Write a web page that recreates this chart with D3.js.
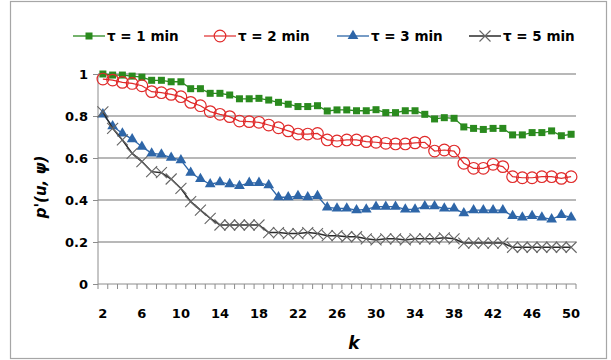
<!DOCTYPE html>
<html><head><meta charset="utf-8">
<script src="https://cdn.jsdelivr.net/npm/d3@7/dist/d3.min.js"></script>
<style>body{margin:0;background:#fff}svg{display:block}</style>
</head><body>
<svg id="c" width="611" height="360"></svg>
<script>
const ks = d3.range(2, 51);
const xTickLabels = [2,6,10,14,18,22,26,30,34,38,42,46,50];
const yTicks = [0,0.2,0.4,0.6,0.8,1];
const seriesNames = ["τ = 1 min","τ = 2 min","τ = 3 min","τ = 5 min"];
const tau1 = [1.0,.995,.995,.99,.985,.97,.97,.963,.963,.93,.93,.908,.908,.9,.882,.882,.884,.876,.865,.856,.845,.845,.849,.824,.829,.829,.825,.825,.83,.816,.816,.825,.825,.808,.786,.792,.789,.748,.741,.736,.741,.741,.71,.71,.721,.721,.729,.706,.713];
const tau2 = [.976,.971,.96,.955,.944,.916,.911,.903,.892,.865,.849,.821,.808,.797,.776,.773,.77,.757,.744,.729,.714,.714,.717,.686,.681,.686,.686,.678,.675,.67,.667,.667,.672,.675,.633,.638,.633,.575,.551,.551,.57,.559,.511,.506,.506,.511,.511,.503,.511];
const tau3 = [.808,.752,.717,.69,.654,.622,.617,.602,.59,.53,.5,.475,.485,.476,.467,.482,.482,.471,.413,.413,.419,.413,.419,.365,.36,.36,.352,.355,.368,.368,.368,.355,.355,.371,.371,.36,.36,.337,.352,.352,.352,.352,.324,.317,.324,.317,.308,.329,.317];
const tau5 = [.82,.741,.686,.622,.583,.535,.53,.5,.455,.392,.352,.313,.281,.281,.281,.281,.281,.245,.245,.24,.24,.245,.24,.23,.23,.225,.225,.215,.21,.215,.215,.21,.215,.215,.215,.22,.215,.195,.195,.195,.195,.195,.175,.175,.175,.175,.175,.175,.175];

const svg = d3.select("#c");
const font = "'DejaVu Sans', sans-serif";
// outer frame
svg.append("rect").attr("x",10.5).attr("y",1.5).attr("width",596).attr("height",357)
  .attr("fill","none").attr("stroke","#a6a6a6").attr("stroke-width",1.2);

const x = d3.scaleBand().domain(ks).range([98,576]).padding(0);
const cx = k => x(k) + x.bandwidth()/2;
const y = d3.scaleLinear().domain([0,1]).range([284,74]);

// gridlines
svg.append("g").selectAll("line").data(yTicks.filter(t=>t>0)).join("line")
  .attr("x1",98).attr("x2",576).attr("y1",d=>y(d)).attr("y2",d=>y(d))
  .attr("stroke","#a0a0a0").attr("stroke-width",1.3);

// y axis
const yAxis = d3.axisLeft(y).tickValues(yTicks).tickSize(5).tickPadding(5).tickFormat(d=>d3.format("")(d));
const gy = svg.append("g").attr("transform","translate(98,0)").call(yAxis);
gy.selectAll("line,path").attr("stroke","#8c8c8c");
gy.select(".domain").attr("d","M0,"+y(1)+"V"+y(0));
gy.selectAll("text").attr("font-family",font).attr("font-weight","bold").attr("font-size",13).attr("fill","#000");

// x axis
const gx = svg.append("g").attr("transform","translate(0,284)");
gx.append("line").attr("x1",98).attr("x2",576).attr("stroke","#8c8c8c");
const bounds = ks.map(k=>x(k)).concat([x(50)+x.bandwidth()]);
gx.selectAll("line.t").data(bounds).join("line").attr("class","t")
  .attr("x1",d=>d).attr("x2",d=>d).attr("y1",0).attr("y2",5).attr("stroke","#8c8c8c");
gx.selectAll("text").data(xTickLabels).join("text")
  .attr("x",d=>cx(d)).attr("y",34).attr("text-anchor","middle")
  .attr("font-family",font).attr("font-weight","bold").attr("font-size",13).text(d=>d);

// axis titles
svg.append("text").attr("x",354).attr("y",349).attr("text-anchor","middle")
  .attr("font-family",font).attr("font-weight","bold").attr("font-style","italic").attr("font-size",17).text("k");
svg.append("text").attr("transform","translate(46,187) rotate(-90)").attr("text-anchor","middle")
  .attr("font-family",font).attr("font-weight","bold").attr("font-style","italic").attr("font-size",15).text("p'(u, ψ)");

const cfg = [
  {data:tau1, color:"#2a8a1e", lw:1.3, marker:"sq"},
  {data:tau2, color:"#e02a2a", lw:1.2, marker:"ci"},
  {data:tau3, color:"#2e66a8", lw:1.3, marker:"tr"},
  {data:tau5, color:"#2b2b2b", lw:1.5, marker:"x"}
];
const line = d3.line().x((d,i)=>cx(ks[i])).y(d=>y(d));

function drawMarker(g, type, color){
  if(type==="sq"){
    g.append("rect").attr("x",-3.5).attr("y",-3.5).attr("width",7).attr("height",7).attr("fill",color);
  } else if(type==="ci"){
    g.append("circle").attr("r",5.8).attr("fill","none").attr("stroke",color).attr("stroke-width",1.2);
  } else if(type==="tr"){
    g.append("path").attr("d",d3.symbol(d3.symbolTriangle,50)()).attr("fill",color);
  } else {
    g.append("path").attr("d","M-5.5,-5.5L5.5,5.5M-5.5,5.5L5.5,-5.5").attr("stroke","#666").attr("stroke-width",1.1);
  }
}

cfg.forEach(c=>{
  svg.append("path").datum(c.data).attr("d",line).attr("fill","none")
    .attr("stroke",c.color).attr("stroke-width",c.lw);
  const g = svg.append("g");
  c.data.forEach((v,i)=>{
    const m = g.append("g").attr("transform",`translate(${cx(ks[i])},${y(v)})`);
    drawMarker(m,c.marker,c.color);
  });
});

// legend
const legPos = [73,204,337,469];
const leg = svg.append("g");
cfg.forEach((c,i)=>{
  const lx = legPos[i], ly = 36;
  leg.append("line").attr("x1",lx).attr("x2",lx+32).attr("y1",ly).attr("y2",ly).attr("stroke",c.color).attr("stroke-width",c.lw);
  const m = leg.append("g").attr("transform",`translate(${lx+16},${ly})`);
  drawMarker(m,c.marker,c.color);
  leg.append("text").attr("x",lx+34).attr("y",ly+5).attr("font-family",font).attr("font-weight","bold")
    .attr("font-size",13.5).text(seriesNames[i]);
});
</script>
</body></html>
